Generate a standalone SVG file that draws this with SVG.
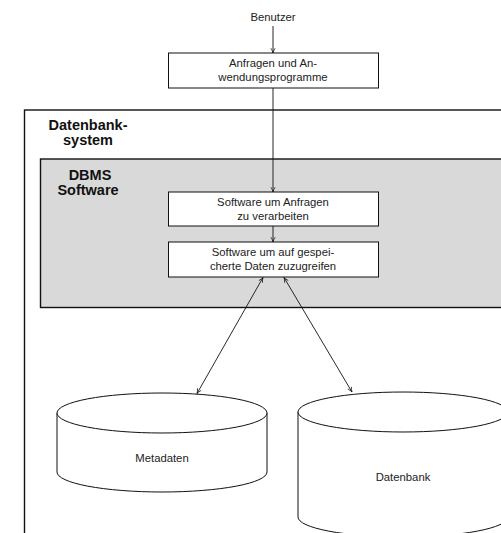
<svg xmlns="http://www.w3.org/2000/svg" width="501" height="533" viewBox="0 0 501 533">
<style>
.t{font-family:"Liberation Sans",Arial,sans-serif;font-size:11.3px;fill:#222;text-anchor:middle}
.b{font-family:"Liberation Sans",Arial,sans-serif;font-size:14.5px;font-weight:bold;fill:#111;text-anchor:middle}
.box{fill:#fff;stroke:#111;stroke-width:1}
.cyl{fill:#fff;stroke:#111;stroke-width:1}
.ln{stroke:#111;stroke-width:0.9;fill:none}
</style>
<defs>
<marker id="ah" viewBox="0 0 10 10" refX="9" refY="5" markerWidth="6" markerHeight="6" orient="auto-start-reverse" markerUnits="userSpaceOnUse">
<path d="M1,1.5 Q5,4 9,5 Q5,6 1,8.5" fill="none" stroke="#111" stroke-width="1.2"/>
</marker>
</defs>
<rect width="501" height="533" fill="#fff"/>
<g id="datenbanksystem">
<rect x="24.5" y="110" width="500" height="440" fill="#fff" stroke="#111" stroke-width="1.4"/>
<text class="b" x="88" y="130">Datenbank-</text>
<text class="b" x="88" y="145">system</text>
</g>
<g id="dbms">
<rect x="40.5" y="159" width="480" height="148.5" fill="#d9d9d9" stroke="#111" stroke-width="1.4"/>
<text class="b" x="90" y="180">DBMS</text>
<text class="b" x="88" y="195">Software</text>
</g>
<g id="benutzer">
<text class="t" x="273" y="21">Benutzer</text>
</g>
<g id="anfragen">
<rect class="box" x="168.5" y="53" width="210" height="35"/>
<text class="t" x="273" y="67">Anfragen und An-</text>
<text class="t" x="273" y="81">wendungsprogramme</text>
</g>
<g id="software1">
<rect class="box" x="168.5" y="192" width="210" height="34"/>
<text class="t" x="273" y="206">Software um Anfragen</text>
<text class="t" x="273" y="220">zu verarbeiten</text>
</g>
<g id="software2">
<rect class="box" x="168.5" y="242" width="210" height="35"/>
<text class="t" x="273" y="256">Software um auf gespei-</text>
<text class="t" x="273" y="270">cherte Daten zuzugreifen</text>
</g>
<g id="metadaten">
<path class="cyl" d="M57,413 L57,472 A105,20 0 0 0 267,472 L267,413"/>
<ellipse class="cyl" cx="162" cy="413" rx="105" ry="20"/>
<text class="t" x="162" y="462">Metadaten</text>
</g>
<g id="datenbank">
<path class="cyl" d="M298,412 L298,517 A105,20 0 0 0 508,517 L508,412"/>
<ellipse class="cyl" cx="403" cy="412" rx="105" ry="20"/>
<text class="t" x="403" y="481">Datenbank</text>
</g>
<g id="connectors">
<line class="ln" x1="273" y1="26" x2="273" y2="53" marker-end="url(#ah)"/>
<line class="ln" x1="273" y1="88" x2="273" y2="192" marker-end="url(#ah)"/>
<line class="ln" x1="273" y1="226" x2="273" y2="242" marker-end="url(#ah)"/>
<line class="ln" x1="263" y1="277.5" x2="197" y2="393.5" marker-start="url(#ah)" marker-end="url(#ah)"/>
<line class="ln" x1="284" y1="277.5" x2="352" y2="392" marker-start="url(#ah)" marker-end="url(#ah)"/>
</g>
</svg>
